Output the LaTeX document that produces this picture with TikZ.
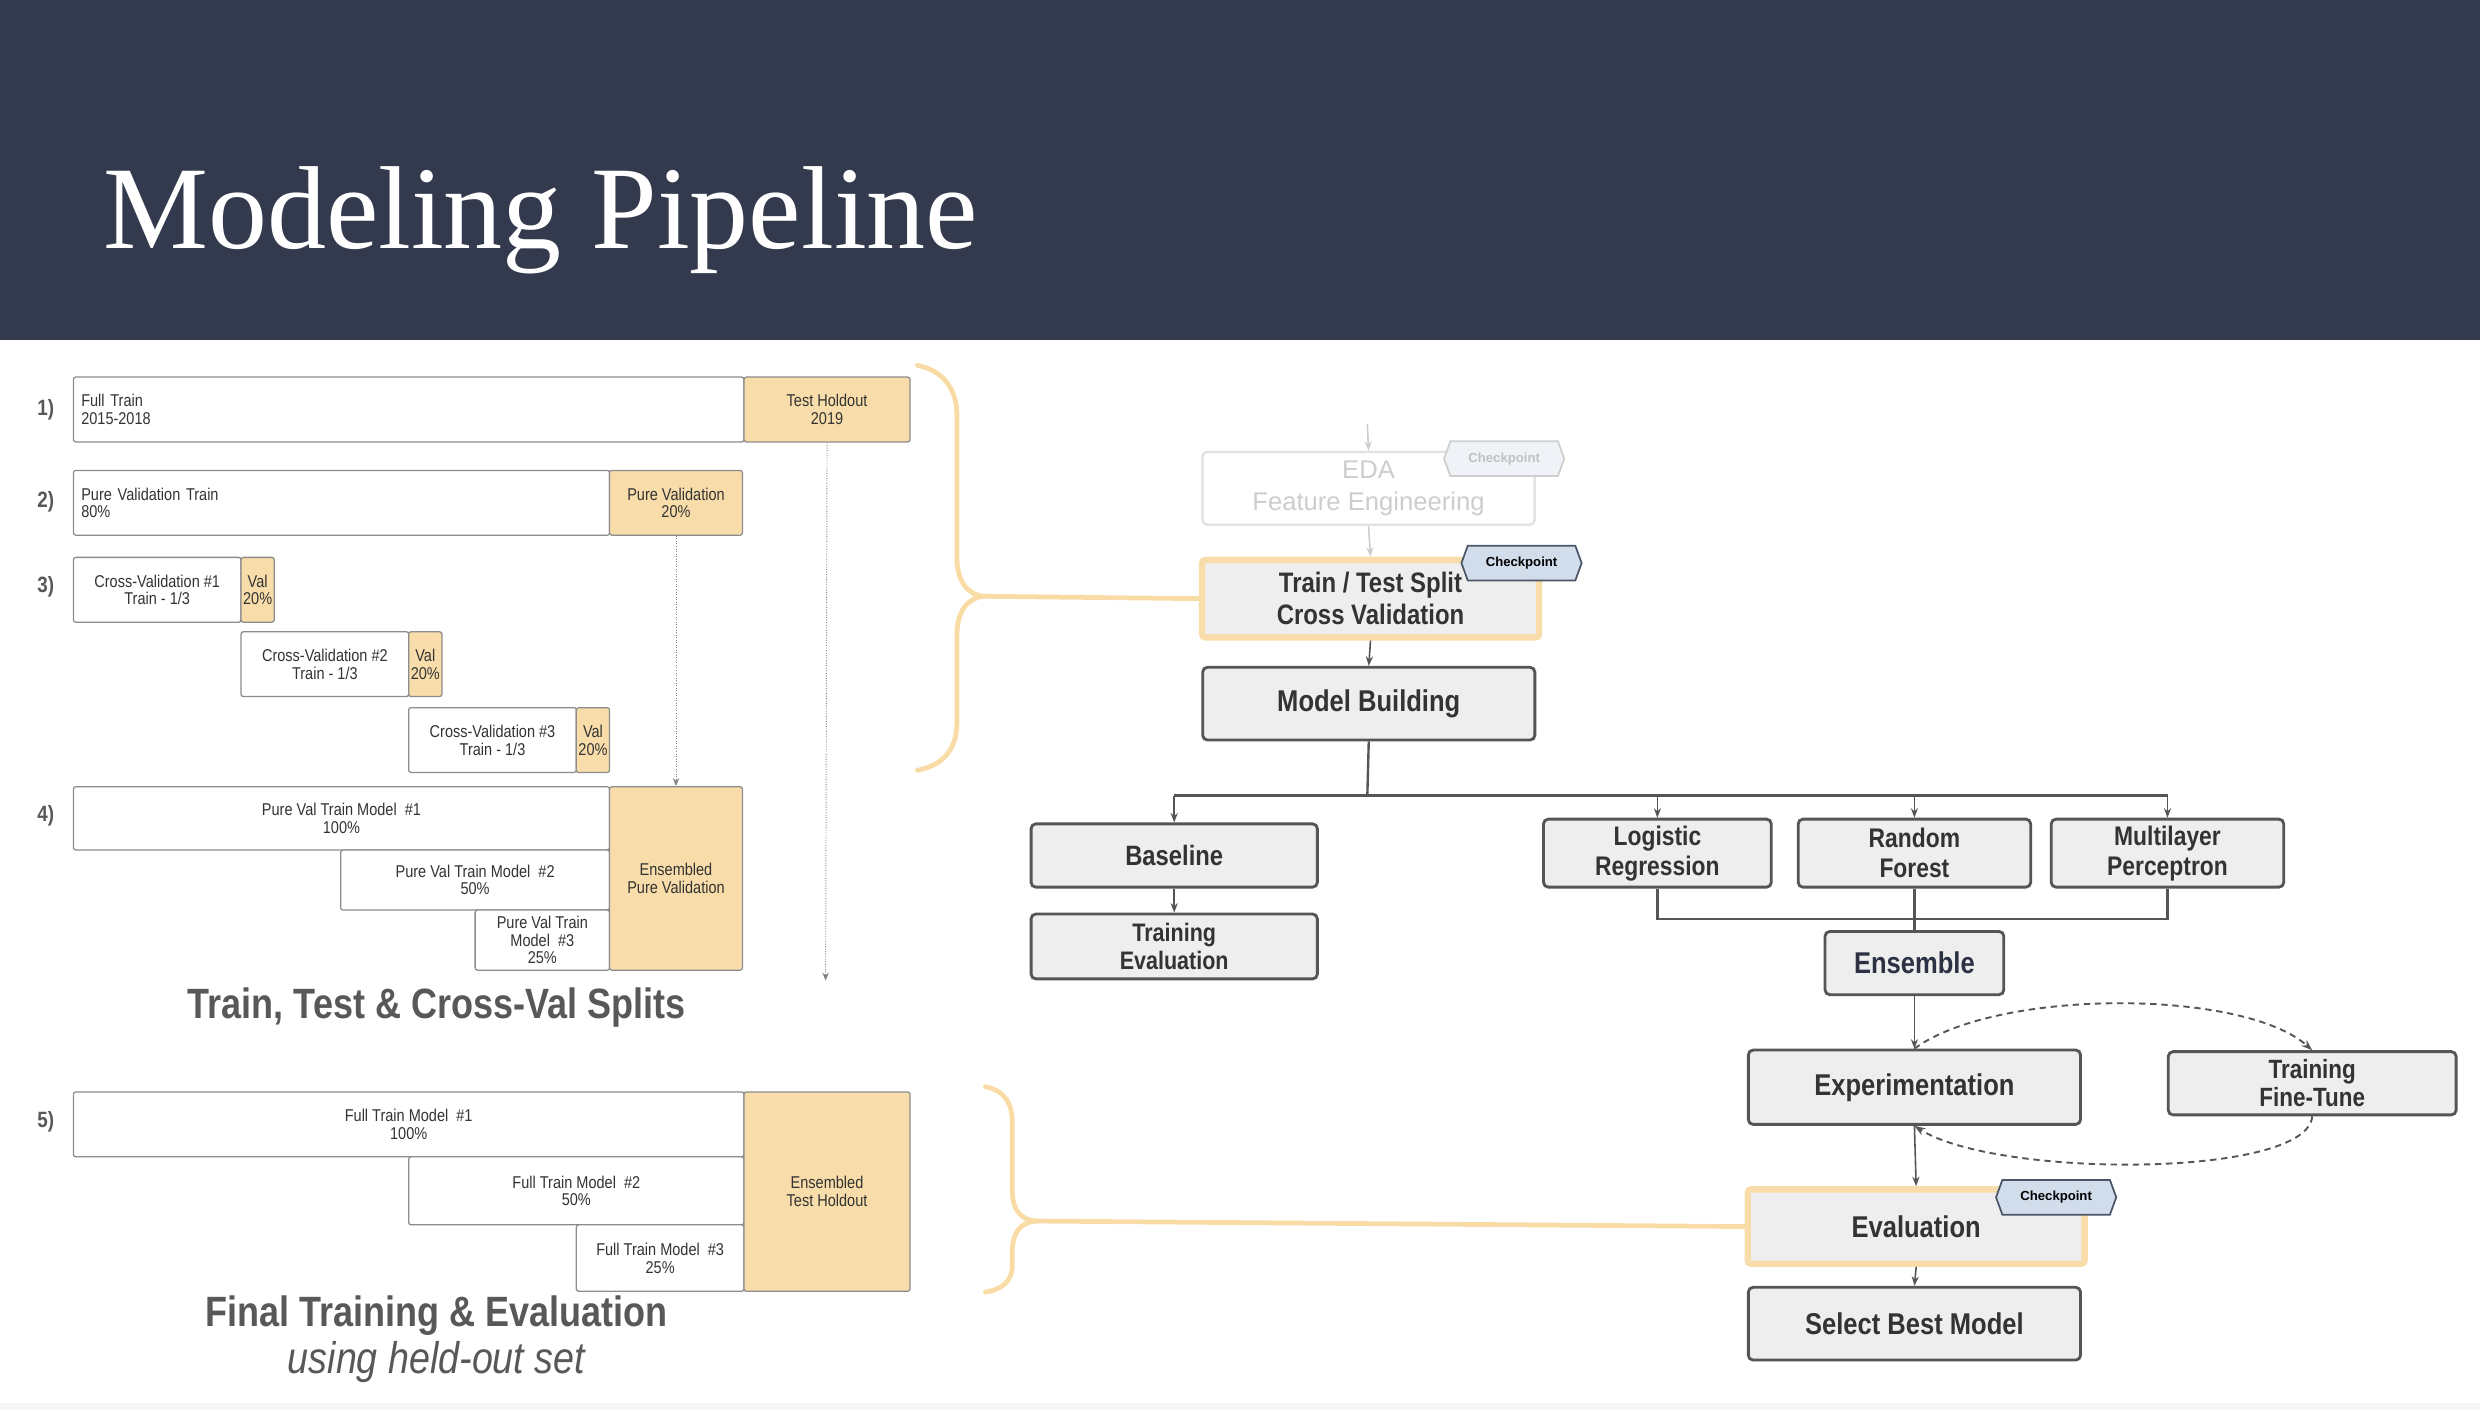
\documentclass[tikz,border=0pt]{standalone}
\usepackage{fontspec}
\usetikzlibrary{arrows.meta,shapes.symbols}

\newfontfamily\condsans[FakeStretch=0.85]{Liberation Sans}
\newfontfamily\plainsans{Liberation Sans}
\newfontfamily\slabserif{Liberation Serif}

\definecolor{bandcol}{RGB}{52,58,77}
\definecolor{holdcol}{RGB}{248,221,170}
\definecolor{bracecol}{RGB}{249,220,165}
\definecolor{splitline}{RGB}{140,140,140}
\definecolor{splittext}{RGB}{51,51,51}
\definecolor{stepfill}{RGB}{238,238,238}
\definecolor{stepline}{RGB}{85,85,85}
\definecolor{steptext}{RGB}{51,51,51}
\definecolor{ckfill}{RGB}{210,221,236}
\definecolor{ckline}{RGB}{74,85,104}
\definecolor{fadeline}{RGB}{226,226,226}
\definecolor{fadetext}{RGB}{205,205,205}
\definecolor{headcol}{RGB}{88,88,88}
\definecolor{enscol}{RGB}{44,50,68}

\begin{document}
\begin{tikzpicture}[x=1pt,y=-1pt,
  splitbox/.style={draw=splitline, line width=0.8pt, fill=white, rounded corners=1.5pt,
    anchor=north west, inner sep=0pt, text=splittext, align=center,
    font=\condsans\fontsize{10.8}{11.2}\selectfont},
  leftbox/.style={splitbox, inner xsep=5pt, align=left, text width=#1},
  holdbox/.style={splitbox, fill=holdcol},
  rowlabel/.style={font=\condsans\bfseries\fontsize{14}{14}\selectfont, text=headcol, inner sep=0pt},
  heading/.style={font=\condsans\bfseries\fontsize{26.8}{28}\selectfont, text=headcol, inner sep=0pt},
  subheading/.style={font=\condsans\itshape\fontsize{28}{28}\selectfont, text=headcol, inner sep=0pt},
  stepbox/.style={draw=stepline, line width=1.8pt, fill=stepfill, rounded corners=3pt,
    anchor=north west, inner sep=0pt, text=steptext, align=center,
    font=\condsans\bfseries\fontsize{19}{21}\selectfont},
  stepsize/.style 2 args={font=\condsans\bfseries\fontsize{#1}{#2}\selectfont},
  markbox/.style={stepbox, draw=holdcol, line width=4pt, rounded corners=2pt},
  fadebox/.style={stepbox, draw=fadeline, line width=1.5pt, fill=white, text=fadetext,
    font=\plainsans\fontsize{16.2}{20}\selectfont},
  checkpoint/.style={shape=signal, signal to=west and east, signal pointer angle=140,
    draw=ckline, line width=1.1pt, fill=ckfill, inner xsep=2pt, inner ysep=1pt,
    minimum height=22pt, minimum width=76pt, text=black,
    font=\plainsans\bfseries\fontsize{8.3}{9}\selectfont},
  fadecheck/.style={checkpoint, draw=fadeline!80!gray, fill=ckfill!35, text=fadetext!85!gray},
  flow/.style={draw=stepline, line width=1pt, -{Stealth[length=6pt,width=4.5pt]}},
  fadeflow/.style={flow, draw=fadetext},
  treeline/.style={draw=stepline, line width=1.5pt},
  loopflow/.style={draw=stepline, line width=1.2pt, dash pattern=on 4pt off 3pt,
    -{Stealth[length=7pt,width=5pt]}},
  dotflow/.style={draw=gray, line width=0.6pt, densely dotted,
    -{Stealth[length=5pt,width=4pt]}},
  brace/.style={draw=bracecol, line width=3pt, line cap=round}]

\useasboundingbox (0,0) rectangle (1568,891.5);

% header band
\fill[bandcol] (0,0) rectangle (1568,215);
\fill[gray!7] (0,887) rectangle (1568,891.5);
\node[anchor=base west, text=white, inner sep=0pt, font=\slabserif\fontsize{74.6}{80}\selectfont] (title) at (65,157) {Modeling Pipeline};

% row numbers
\node[rowlabel] (n1) at (29,259) {1)};
\node[rowlabel] (n2) at (29,317) {2)};
\node[rowlabel] (n3) at (29,371) {3)};
\node[rowlabel] (n4) at (29,516) {4)};
\node[rowlabel] (n5) at (29,709) {5)};

% 1) full train / test holdout
\node[leftbox=414pt, minimum width=424pt, minimum height=41pt] (fulltrain) at (46,238) {Full Train\\2015-2018};
\node[holdbox, minimum width=105pt, minimum height=41pt] (testhold) at (470,238) {Test Holdout\\2019};

% 2) pure validation
\node[leftbox=329pt, minimum width=339pt, minimum height=41pt] (pvtrain) at (46,297) {Pure Validation Train\\80\%};
\node[holdbox, minimum width=84pt, minimum height=41pt] (pureval) at (385,297) {Pure Validation\\20\%};

% 3) cross-validation folds
\node[splitbox, minimum width=106pt, minimum height=41pt] (cv1) at (46,352) {Cross-Validation \#1\\Train - 1/3};
\node[holdbox, minimum width=21pt, minimum height=41pt] (val1) at (152,352) {Val\\20\%};
\node[splitbox, minimum width=106pt, minimum height=41pt] (cv2) at (152,399) {Cross-Validation \#2\\Train - 1/3};
\node[holdbox, minimum width=21pt, minimum height=41pt] (val2) at (258,399) {Val\\20\%};
\node[splitbox, minimum width=106pt, minimum height=41pt] (cv3) at (258,447) {Cross-Validation \#3\\Train - 1/3};
\node[holdbox, minimum width=21pt, minimum height=41pt] (val3) at (364,447) {Val\\20\%};

% 4) pure val models
\node[splitbox, minimum width=339pt, minimum height=40pt] (pvm1) at (46,497) {Pure Val Train Model~~\#1\\100\%};
\node[splitbox, minimum width=170pt, minimum height=38pt] (pvm2) at (215,537) {Pure Val Train Model~~\#2\\50\%};
\node[splitbox, minimum width=85pt, minimum height=38pt] (pvm3) at (300,575) {Pure Val Train\\Model~~\#3\\25\%};
\node[holdbox, minimum width=84pt, minimum height=116pt] (enspv) at (385,497) {Ensembled\\Pure Validation};

\coordinate (testend) at (522,620);
\draw[dotflow] (pureval.south) -- (enspv.north);
\draw[dotflow] (testhold.south) -- (testend);

\node[heading] (hsplit) at (276,637) {Train, Test \& Cross-Val Splits};

% 5) full train models
\node[splitbox, minimum width=424pt, minimum height=41pt] (ftm1) at (46,690) {Full Train Model~~\#1\\100\%};
\node[splitbox, minimum width=212pt, minimum height=43pt] (ftm2) at (258,731) {Full Train Model~~\#2\\50\%};
\node[splitbox, minimum width=106pt, minimum height=42pt] (ftm3) at (364,774) {Full Train Model~~\#3\\25\%};
\node[holdbox, minimum width=105pt, minimum height=126pt] (ensth) at (470,690) {Ensembled\\Test Holdout};

\node[heading] (hfinal) at (276,832) {Final Training \& Evaluation};
\node[subheading] (hheld) at (276,861) {using held-out set};

% right: pipeline
\node[fadebox, minimum width=210pt, minimum height=46pt] (eda) at (759.5,285) {EDA\\Feature Engineering};
\node[markbox, stepsize={17.8}{20}, minimum width=213pt, minimum height=49pt] (tts) at (758,352) {Train / Test Split\\Cross Validation};
\node[stepbox, minimum width=210pt, minimum height=46pt] (mb) at (759.5,421) {Model Building};

\node[stepbox, stepsize={17.7}{19}, minimum width=181pt, minimum height=40pt] (base) at (651,520) {Baseline};
\node[stepbox, stepsize={16}{18}, minimum width=181pt, minimum height=41pt] (treval) at (651,577) {Training\\Evaluation};
\node[stepbox, stepsize={17}{19}, minimum width=144pt, minimum height=43pt] (logreg) at (975,517) {Logistic\\Regression};
\node[stepbox, stepsize={17}{19}, minimum width=147pt, minimum height=43pt] (rforest) at (1136,517) {Random\\Forest};
\node[stepbox, stepsize={17}{19}, minimum width=147pt, minimum height=43pt] (mlp) at (1296,517) {Multilayer\\Perceptron};
\node[stepbox, text=enscol, minimum width=113pt, minimum height=40pt] (ens) at (1153,588) {Ensemble};

\node[stepbox, minimum width=210pt, minimum height=47pt] (exper) at (1104.5,663) {Experimentation};
\node[stepbox, stepsize={16.7}{18}, minimum width=182pt, minimum height=40pt] (finetune) at (1370,664) {Training\\Fine-Tune};
\node[markbox, minimum width=213pt, minimum height=47pt] (evalu) at (1103,750) {Evaluation};
\node[stepbox, minimum width=210pt, minimum height=46pt] (best) at (1104.5,813) {Select Best Model};

% checkpoints
\node[fadecheck] (ckeda) at (951,290) {Checkpoint};
\node[checkpoint] (cktts) at (962,356) {Checkpoint};
\node[checkpoint] (ckeval) at (1300,757) {Checkpoint};

% connectors
\coordinate (edain) at (864.5,268);
\coordinate (hub) at (864.5,503);
\coordinate (join) at (1209.5,581);
\draw[fadeflow] (edain) -- (eda.north);
\draw[fadeflow] (eda.south) -- (tts.north);
\draw[flow] (tts.south) -- (mb.north);
\draw[treeline] (mb.south) -- (hub);
\draw[treeline] (hub -| base.north) -- (hub -| mlp.north);
\draw[flow] (hub -| base.north) -- (base.north);
\draw[flow] (hub -| logreg.north) -- (logreg.north);
\draw[flow] (hub -| rforest.north) -- (rforest.north);
\draw[flow] (hub -| mlp.north) -- (mlp.north);
\draw[flow] (base.south) -- (treval.north);
\draw[treeline] (logreg.south) |- (join) -| (mlp.south);
\draw[treeline] (rforest.south) -- (ens.north);
\draw[flow] (ens.south) -- (exper.north);
\draw[loopflow] (exper.north) .. controls (1262,625) and (1418,625) .. (finetune.north);
\draw[loopflow] (finetune.south) .. controls (1459,745) and (1262,745) .. (exper.south);
\draw[flow] (exper.south) -- (evalu.north);
\draw[flow] (evalu.south) -- (best.north);

% braces
\coordinate (braceA) at (622,377);
\coordinate (braceB) at (655,772);
\draw[brace] (580,231) .. controls (596,234) and (605,246) .. (605,262) -- (605,352) .. controls (605,368) and (612,376) .. (braceA);
\draw[brace] (braceA) .. controls (612,378) and (605,386) .. (605,402) -- (605,457) .. controls (605,474) and (596,484) .. (580,487);
\draw[brace] (braceA) -- (tts.west);
\draw[brace] (623,687) .. controls (636,690) and (640,698) .. (640,710) -- (640,752) .. controls (640,765) and (645,771) .. (braceB);
\draw[brace] (braceB) .. controls (645,773) and (640,779) .. (640,792) -- (640,800) .. controls (640,810) and (634,815) .. (623,817);
\draw[brace] (braceB) -- (evalu.west);

\end{tikzpicture}
\end{document}
